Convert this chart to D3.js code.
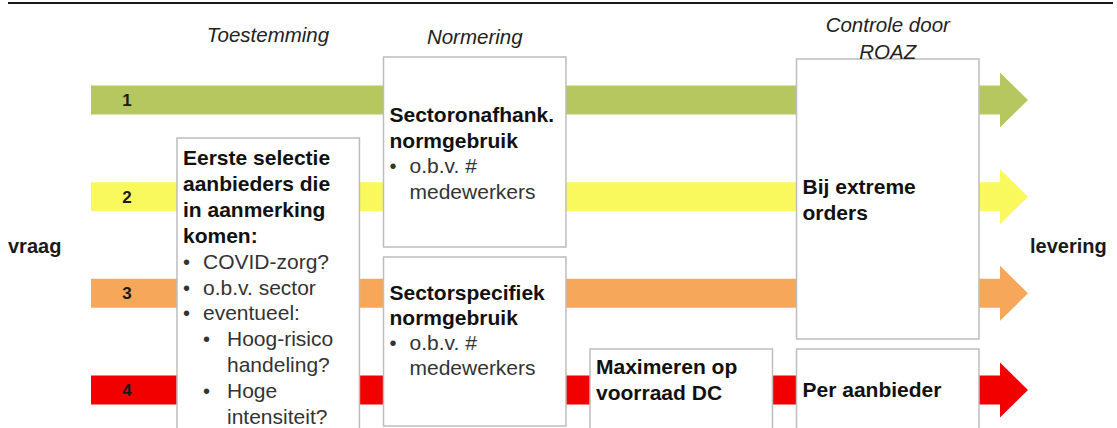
<!DOCTYPE html>
<html>
<head>
<meta charset="utf-8">
<script src="https://cdn.jsdelivr.net/npm/d3@7"></script>
<style>
  body { margin: 0; background: #fff; }
  svg { display: block; font-family: "Liberation Sans", Arial, sans-serif; }
</style>
</head>
<body>
<div id="chart"></div>
<script>
// ----- data -----
let lanes = ["1", "2", "3", "4"];
let laneColors = ["#b5c75e", "#f9f95e", "#f7a75a", "#f20000"];
let stages = ["Toestemming", "Normering", "Maximeren", "Controle door ROAZ"];
let stageHeaders = [["Toestemming"], ["Normering"], [], ["Controle door", "ROAZ"]];
let startLabel = "vraag";
let endLabel = "levering";

// boxes: stage, first lane covered, last lane covered, text lines
// line kinds: b = bold, l1 = bullet, l2 = sub bullet, c = continuation of bullet
let boxStages = [0, 1, 1, 2, 3, 3];
let boxLaneFrom = ["2", "1", "3", "4", "1", "4"];
let boxLaneTo = ["4", "2", "4", "4", "3", "4"];
let boxTexts = [
    [["b", "Eerste selectie"], ["b", "aanbieders die"], ["b", "in aanmerking"], ["b", "komen:"],
     ["l1", "COVID-zorg?"], ["l1", "o.b.v. sector"], ["l1", "eventueel:"],
     ["l2", "Hoog-risico"], ["c2", "handeling?"], ["l2", "Hoge"], ["c2", "intensiteit?"]],
    [["b", "Sectoronafhank."], ["b", "normgebruik"], ["l1", "o.b.v. #"], ["c1", "medewerkers"]],
    [["b", "Sectorspecifiek"], ["b", "normgebruik"], ["l1", "o.b.v. #"], ["c1", "medewerkers"]],
    [["b", "Maximeren op"], ["b", "voorraad DC"]],
    [["b", "Bij extreme"], ["b", "orders"]],
    [["b", "Per aanbieder"]]
];

// ----- layout -----
let svgWidth = 1117;
let svgHeight = 428;

let svg = d3.select("#chart").append("svg")
    .attr("width", svgWidth)
    .attr("height", svgHeight);

let y = d3.scalePoint().domain(lanes).range([100, 390]);
let x = d3.scaleBand().domain(stages).range([177, 979]).paddingInner(0.1165).paddingOuter(0);

let shaftStart = 91;
let shaftEnd = 1000;
let tip = 1028;
let shaftHalf = 14.5;
let headHalf = 27.5;

// top rule
svg.append("line")
    .attr("x1", 8).attr("x2", 1113)
    .attr("y1", 3).attr("y2", 3)
    .attr("stroke", "#1a1a1a")
    .attr("stroke-width", 2);

// arrows
svg.selectAll("path.arrow")
    .data(lanes)
    .enter()
    .append("path")
    .attr("class", "arrow")
    .attr("fill", (d, i) => laneColors[i])
    .attr("d", function(d) {
        let c = y(d);
        return `M${shaftStart},${c - shaftHalf} L${shaftEnd},${c - shaftHalf} L${shaftEnd},${c - headHalf}
                L${tip},${c} L${shaftEnd},${c + headHalf} L${shaftEnd},${c + shaftHalf}
                L${shaftStart},${c + shaftHalf} Z`;
    });

svg.selectAll("text.lane")
    .data(lanes)
    .enter()
    .append("text")
    .attr("class", "lane")
    .attr("x", 127)
    .attr("y", d => y(d) + 6)
    .attr("text-anchor", "middle")
    .attr("font-size", 17)
    .attr("font-weight", "bold")
    .attr("fill", "#1a1a1a")
    .text(d => d);

// boxes
let boxTops = { "1": 57, "2": 138, "3": 257, "4": 349 };
let boxBottoms = { "2": 247, "3": 339, "4": 440 };

let boxes = svg.selectAll("g.box")
    .data(boxTexts)
    .enter()
    .append("g")
    .attr("class", "box");

boxes.append("rect")
    .attr("x", (d, i) => x(stages[boxStages[i]]))
    .attr("width", x.bandwidth())
    .attr("y", function(d, i) {
        let from = boxLaneFrom[i];
        if (boxStages[i] == 3 && from == "1") return 59;
        return boxTops[from];
    })
    .attr("height", function(d, i) {
        let from = boxLaneFrom[i];
        let top = (boxStages[i] == 3 && from == "1") ? 59 : boxTops[from];
        let bottom = boxBottoms[boxLaneTo[i]];
        if (boxStages[i] == 1 && boxLaneTo[i] == "4") bottom = 426;
        return bottom - top;
    })
    .attr("fill", "#fff")
    .attr("stroke", "#bdbdbd")
    .attr("stroke-width", 1.5);

// text lines inside boxes
let firstBaselines = [165, 122, 300, 374, 194, 397];
let normLineHeights = [25.9, 25.5, 25, 26, 26, 26];

boxes.each(function(lines, i) {
    let g = d3.select(this);
    let left = x(stages[boxStages[i]]);
    lines.forEach(function(line, j) {
        let kind = line[0];
        let by = firstBaselines[i] + j * normLineHeights[i];
        let tx = left + 6;
        if (kind == "l1" || kind == "c1") tx = left + 26;
        if (kind == "l2" || kind == "c2") tx = left + 50;
        if (kind == "l1") {
            g.append("text").attr("x", left + 6).attr("y", by)
                .attr("font-size", 20).attr("fill", "#333").text("•");
        }
        if (kind == "l2") {
            g.append("text").attr("x", left + 26).attr("y", by)
                .attr("font-size", 20).attr("fill", "#333").text("•");
        }
        g.append("text")
            .attr("x", tx)
            .attr("y", by)
            .attr("font-size", 21)
            .attr("font-weight", kind == "b" ? "bold" : "normal")
            .attr("fill", kind == "b" ? "#111" : "#333")
            .text(line[1]);
    });
});

// stage headers
let headerBaselines = [[42], [44], [], [32, 59]];
stages.forEach(function(s, i) {
    stageHeaders[i].forEach(function(h, j) {
        svg.append("text")
            .attr("x", i == 0 ? 268 : x(s) + x.bandwidth() / 2)
            .attr("y", headerBaselines[i][j])
            .attr("text-anchor", "middle")
            .attr("font-size", 20.5)
            .attr("font-style", "italic")
            .attr("fill", "#222")
            .text(h);
    });
});

// start / end labels
svg.append("text")
    .attr("x", 8).attr("y", 253)
    .attr("font-size", 20).attr("font-weight", "bold").attr("fill", "#1a1a1a")
    .text(startLabel);
svg.append("text")
    .attr("x", 1030).attr("y", 253)
    .attr("font-size", 20).attr("font-weight", "bold").attr("fill", "#1a1a1a")
    .text(endLabel);
</script>
</body>
</html>
